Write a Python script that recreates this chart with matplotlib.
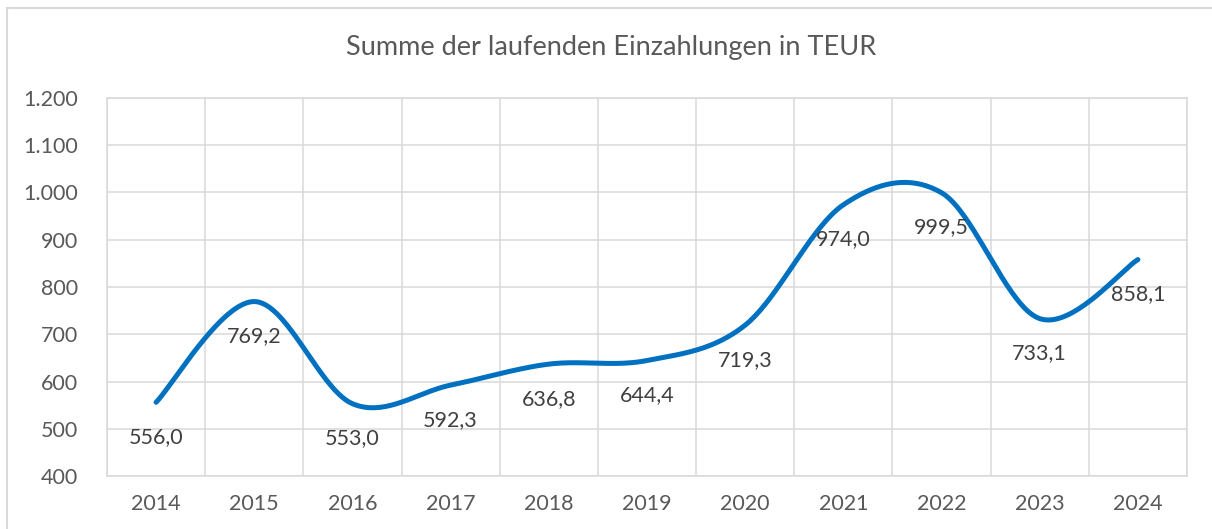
import numpy as np
import matplotlib
matplotlib.use("Agg")
import matplotlib.pyplot as plt
from matplotlib.patches import Rectangle

years = ["2014", "2015", "2016", "2017", "2018", "2019", "2020", "2021", "2022", "2023", "2024"]
values = [556.0, 769.2, 553.0, 592.3, 636.8, 644.4, 719.3, 974.0, 999.5, 733.1, 858.1]
labels = ["556,0", "769,2", "553,0", "592,3", "636,8", "644,4", "719,3", "974,0", "999,5", "733,1", "858,1"]
yticks = [400, 500, 600, 700, 800, 900, 1000, 1100, 1200]
ytick_labels = ["400", "500", "600", "700", "800", "900", "1.000", "1.100", "1.200"]


def smooth(x, y, n=40):
    # Catmull-Rom like smoothing as used by Excel's smoothed lines
    x = np.asarray(x, float)
    y = np.asarray(y, float)
    px = np.concatenate([[x[0]], x, [x[-1]]])
    py = np.concatenate([[y[0]], y, [y[-1]]])
    xs, ys = [], []
    t = np.linspace(0, 1, n)
    for i in range(1, len(px) - 2):
        p0 = np.array([px[i], py[i]])
        p3 = np.array([px[i + 1], py[i + 1]])
        p1 = p0 + (np.array([px[i + 1], py[i + 1]]) - np.array([px[i - 1], py[i - 1]])) / 6
        p2 = p3 - (np.array([px[i + 2], py[i + 2]]) - np.array([px[i], py[i]])) / 6
        b = ((1 - t) ** 3)[:, None] * p0 + (3 * (1 - t) ** 2 * t)[:, None] * p1 \
            + (3 * (1 - t) * t ** 2)[:, None] * p2 + (t ** 3)[:, None] * p3
        xs.extend(b[:, 0])
        ys.extend(b[:, 1])
    return np.array(xs), np.array(ys)


plt.rcParams['font.family'] = ['Lato', 'DejaVu Sans']

fig = plt.figure(figsize=(12.12, 5.29), dpi=100)
W, H = 1212, 529
ax = fig.add_axes([107 / W, 1 - 476 / H, (1187 - 107) / W, (476 - 98) / H])

x = np.arange(len(years))
sx, sy = smooth(x, values)
ax.plot(sx, sy, color='#0070C0', linewidth=3.6, solid_capstyle='round', zorder=3)

for xi, v, lab in zip(x, values, labels):
    ax.annotate(lab, (xi, v), xytext=(0, -25), textcoords='offset points',
                ha='center', va='center', fontsize=15.5, color='#404040', zorder=4)

ax.set_xlim(-0.5, len(years) - 0.5)
ax.set_ylim(400, 1200)
ax.set_yticks(yticks)
ax.set_yticklabels(ytick_labels)
ax.set_xticks(x)
ax.set_xticklabels(years)
ax.set_xticks(np.arange(-0.5, len(years), 1), minor=True)
ax.tick_params(axis='both', which='both', length=0, labelsize=15.5, colors='#595959')
ax.tick_params(axis='x', pad=13)
ax.tick_params(axis='y', pad=21)
ax.grid(True, which='major', axis='y', color='#D9D9D9', linewidth=1.1)
ax.grid(True, which='minor', axis='x', color='#D9D9D9', linewidth=1.1)
for s in ax.spines.values():
    s.set_color('#D9D9D9')
    s.set_linewidth(1.1)

fig.text(611 / W, 1 - 47 / H, "Summe der laufenden Einzahlungen in TEUR",
         ha='center', va='center', fontsize=19.5, color='#595959')

fig.patches.append(Rectangle((7 / W, -0.1), 1.2, 1 - 8 / H + 0.1, transform=fig.transFigure,
                             fill=False, edgecolor='#D9D9D9', linewidth=1.5))

fig.savefig("out.png", dpi=100)
